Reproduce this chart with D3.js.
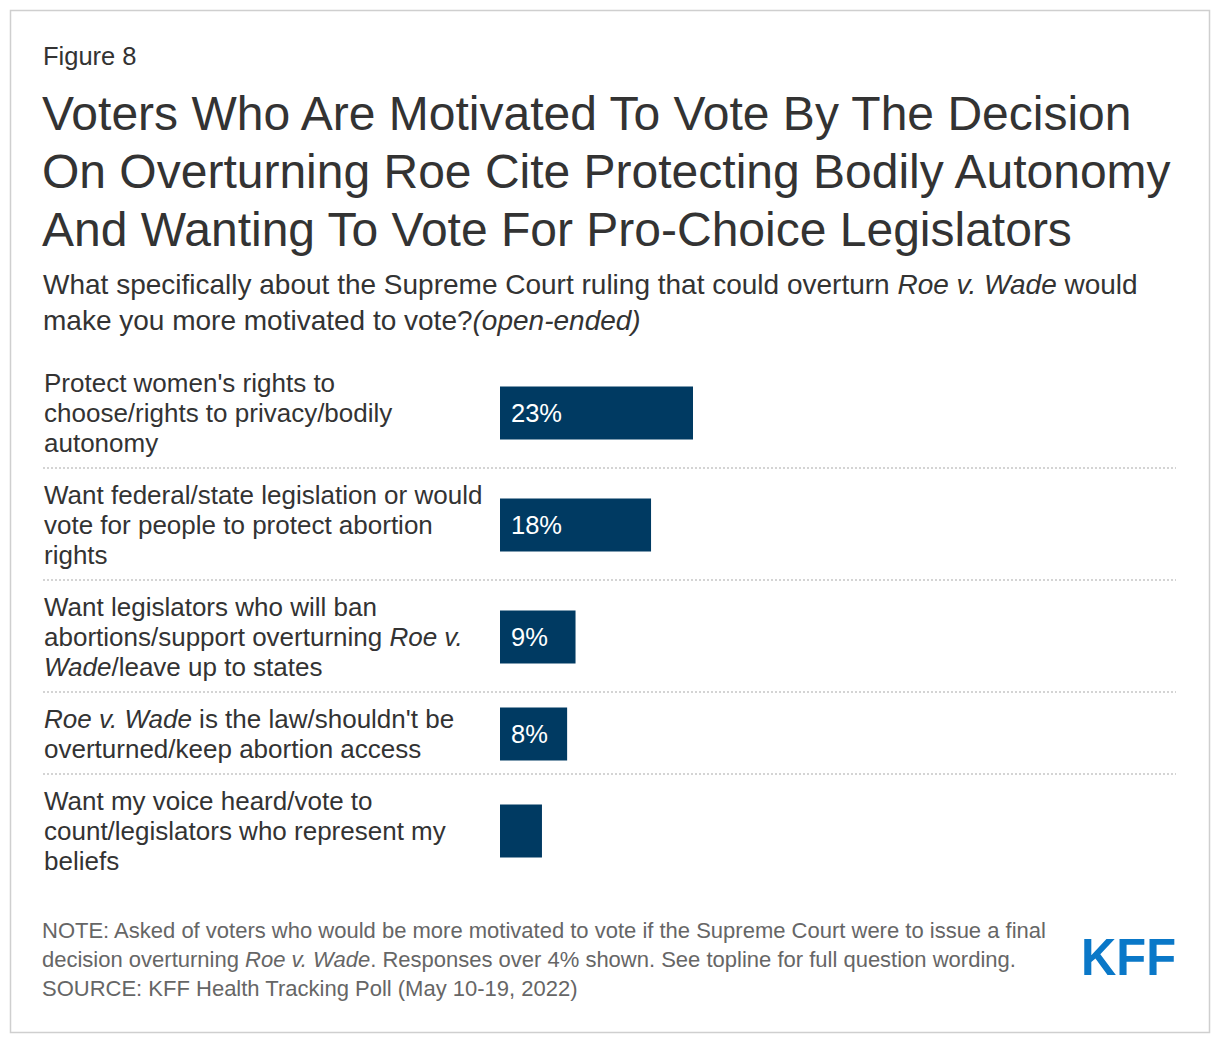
<!DOCTYPE html>
<html>
<head>
<meta charset="utf-8">
<script src="https://cdn.jsdelivr.net/npm/d3@7"></script>
<style>
  body { margin: 0; background: #fff; }
  svg text { font-family: "Liberation Sans", Arial, sans-serif; }
</style>
</head>
<body>
<script>
// data -- label lines, *...* marks italic
var categories = [
  ["Protect women's rights to", "choose/rights to privacy/bodily", "autonomy"],
  ["Want federal/state legislation or would", "vote for people to protect abortion", "rights"],
  ["Want legislators who will ban", "abortions/support overturning *Roe v.*", "*Wade*/leave up to states"],
  ["*Roe v. Wade* is the law/shouldn't be", "overturned/keep abortion access"],
  ["Want my voice heard/vote to", "count/legislators who represent my", "beliefs"]
];
var values = [23, 18, 9, 8, 5];
var valueLabels = ["23%", "18%", "9%", "8%", ""];

var titleLines = [
  "Voters Who Are Motivated To Vote By The Decision",
  "On Overturning Roe Cite Protecting Bodily Autonomy",
  "And Wanting To Vote For Pro-Choice Legislators"
];
var subtitleLines = [
  "What specifically about the Supreme Court ruling that could overturn *Roe v. Wade* would",
  "make you more motivated to vote?*(open-ended)*"
];
var noteLines = [
  "NOTE: Asked of voters who would be more motivated to vote if the Supreme Court were to issue a final",
  "decision overturning *Roe v. Wade*. Responses over 4% shown. See topline for full question wording.",
  "SOURCE: KFF Health Tracking Poll (May 10-19, 2022)"
];

var W = 1220, H = 1044;
var svg = d3.select("body").append("svg")
  .attr("width", W).attr("height", H);

svg.append("rect")
  .attr("x", 10.5).attr("y", 10.5)
  .attr("width", 1199).attr("height", 1022)
  .attr("fill", "#fff").attr("stroke", "#cfcfcf").attr("stroke-width", 1.5);

// writes a line with *italic* runs as tspans
function richLine(sel, str) {
  var parts = str.split("*");
  parts.forEach(function(p, i) {
    if (p === "") return;
    sel.append("tspan").text(p)
      .style("font-style", i % 2 ? "italic" : "normal");
  });
}

svg.append("text").attr("x", 43).attr("y", 65)
  .attr("font-size", 25.5).attr("fill", "#333").text("Figure 8");

titleLines.forEach(function(l, i) {
  svg.append("text").attr("x", 42).attr("y", 130 + i * 58)
    .attr("font-size", 48).attr("fill", "#333").text(l);
});

subtitleLines.forEach(function(l, i) {
  richLine(svg.append("text").attr("x", 43).attr("y", 294 + i * 36)
    .attr("font-size", 28).attr("fill", "#333"), l);
});

// rows
var lineH = 30, pad = 22, rowTop = 356;
var rows = [];
categories.forEach(function(c, i) {
  var h = c.length * lineH + pad;
  rows.push({ top: rowTop, h: h, lines: c, v: values[i], lab: valueLabels[i] });
  rowTop += h;
});

var x = d3.scaleLinear().domain([0, 23]).range([0, 193]);
var x0 = 500, barH = 53;

var g = svg.selectAll("g.row").data(rows).enter().append("g").attr("class", "row");

g.append("rect")
  .attr("x", x0)
  .attr("y", function(d) { return d.top + d.h / 2 - barH / 2 + 1; })
  .attr("width", function(d) { return x(d.v); })
  .attr("height", barH)
  .attr("fill", "#003a62");

g.append("text")
  .attr("x", x0 + 11)
  .attr("y", function(d) { return d.top + d.h / 2 + 10; })
  .attr("font-size", 25.5).attr("fill", "#fff")
  .text(function(d) { return d.lab; });

g.each(function(d) {
  var sel = d3.select(this);
  var mid = d.top + d.h / 2;
  d.lines.forEach(function(l, j) {
    var cy = mid + (j - (d.lines.length - 1) / 2) * lineH;
    richLine(sel.append("text").attr("x", 44).attr("y", cy + 10)
      .attr("font-size", 26).attr("fill", "#333"), l);
  });
});

g.filter(function(d, i) { return i < rows.length - 1; })
  .append("line")
  .attr("x1", 43).attr("x2", 1176)
  .attr("y1", function(d) { return d.top + d.h; })
  .attr("y2", function(d) { return d.top + d.h; })
  .attr("stroke", "#d4d4d4").attr("stroke-width", 2)
  .attr("stroke-dasharray", "2,2");

noteLines.forEach(function(l, i) {
  richLine(svg.append("text").attr("x", 42).attr("y", 938 + i * 29)
    .attr("font-size", 22).attr("fill", "#666"), l);
});

svg.append("text")
  .attr("x", 1081).attr("y", 975)
  .attr("font-size", 52).attr("font-weight", "bold")
  .attr("fill", "#0a78c8")
  .attr("textLength", 95).attr("lengthAdjust", "spacingAndGlyphs")
  .text("KFF");
</script>
</body>
</html>
